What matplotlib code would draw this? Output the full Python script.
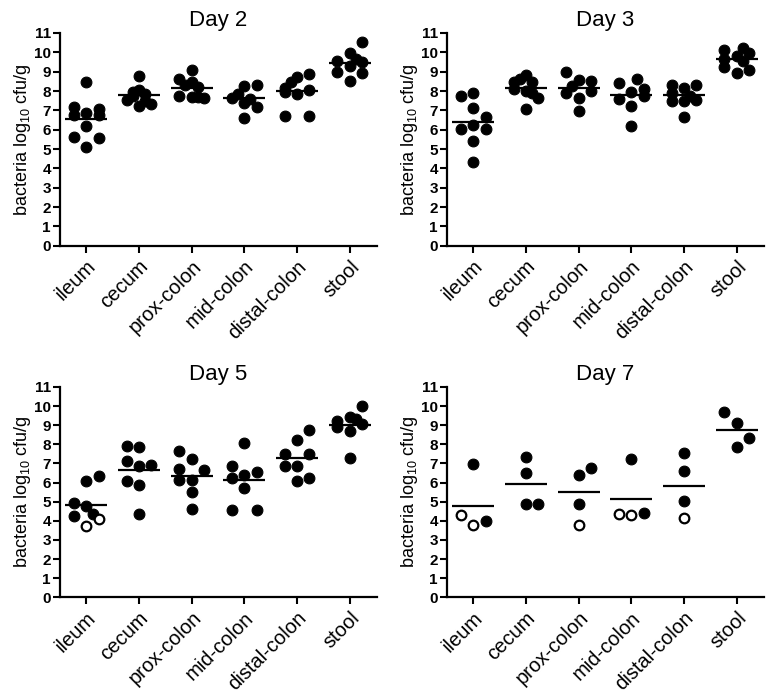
import matplotlib
matplotlib.use("Agg")
import matplotlib.pyplot as plt
import numpy as np

plt.rcParams['font.family'] = ['Liberation Sans', 'DejaVu Sans']
plt.rcParams['mathtext.fontset'] = 'custom'
plt.rcParams['mathtext.rm'] = 'Liberation Sans'
plt.rcParams['mathtext.it'] = 'Liberation Sans:italic'
plt.rcParams['mathtext.bf'] = 'Liberation Sans:bold'

categories = ["ileum", "cecum", "prox-colon", "mid-colon", "distal-colon", "stool"]
titles = ["Day 2", "Day 3", "Day 5", "Day 7"]
yticks = list(range(0, 12))

# ---- Day 2 ----
d2_vals = [
    [8.45, 7.17, 7.06, 6.77, 6.86, 6.77, 6.20, 5.61, 5.56, 5.13],
    [8.80, 8.05, 7.95, 7.85, 7.75, 7.55, 7.50, 7.35, 7.25],
    [9.10, 8.60, 8.45, 8.30, 8.20, 7.75, 7.70, 7.65, 7.70],
    [8.25, 8.30, 7.85, 7.65, 7.60, 7.40, 7.15, 6.60],
    [8.90, 8.75, 8.45, 8.15, 8.07, 7.85, 7.95, 6.70, 6.70],
    [10.55, 9.97, 9.55, 9.65, 9.48, 9.27, 8.96, 8.93, 8.53],
]
d2_slot = [
    [0, -1, 1, -1, 0, 1, 0, -1, 1, 0],
    [0, 0, -0.5, 0.5, -0.5, -1, 0.5, 1, 0],
    [0, -1, 0, -0.5, 0.5, -1, 0, 1, 0.5],
    [0, 1, -0.5, -1, 0.5, 0, 1, 0],
    [1, 0, -0.5, -1, 1, 0, -1, -1, 1],
    [1, 0, -1, 0.5, 1, 0, -1, 1, 0],
]
d2_open = [[] for _ in range(6)]
d2_mean = [6.55, 7.77, 8.15, 7.63, 7.98, 9.45]

# ---- Day 3 ----
d3_vals = [
    [7.72, 7.89, 7.11, 6.63, 6.06, 6.25, 6.06, 5.42, 4.33],
    [8.85, 8.60, 8.45, 8.45, 8.10, 8.00, 7.90, 7.65, 7.05],
    [9.00, 8.55, 8.50, 8.25, 8.00, 7.90, 7.65, 6.95],
    [8.40, 8.60, 7.60, 7.95, 8.10, 7.75, 7.25, 6.20],
    [8.30, 8.15, 8.30, 7.90, 7.75, 7.50, 7.50, 7.55, 6.65],
    [10.10, 10.20, 9.95, 9.80, 9.65, 9.25, 9.55, 8.95, 9.10],
]
d3_slot = [
    [-1, 0, 0, 1, -1, 0, 1, 0, 0],
    [0, -0.5, -1, 0.5, -1, 0, 0.5, 1, 0],
    [-1, 0, 1, -0.5, 1, -1, 0, 0],
    [-1, 0.5, -1, 0, 1, 1, 0, 0],
    [-1, 0, 1, -1, 0.5, -1, 0, 1, 0],
    [-1, 0.5, 1, 0, -1, -1, 0.5, 0, 1],
]
d3_open = [[] for _ in range(6)]
d3_mean = [6.40, 8.13, 8.13, 7.79, 7.79, 9.65]

# ---- Day 5 ----
d5_vals = [
    [4.93, 4.76, 6.07, 6.33, 4.23, 4.35, 3.74, 4.09],
    [7.90, 7.85, 7.15, 6.89, 6.94, 6.10, 5.89, 4.35],
    [7.64, 7.24, 6.73, 6.68, 6.15, 6.15, 5.49, 4.63],
    [8.08, 6.85, 6.42, 6.54, 6.24, 5.72, 4.55, 4.55],
    [8.74, 8.22, 7.47, 7.47, 6.89, 6.89, 6.07, 6.24],
    [10.00, 9.44, 9.21, 9.34, 8.92, 9.04, 8.69, 7.29],
]
d5_slot = [
    [-1, 0, 0, 1, -1, 0.5, 0, 1],
    [-1, 0, -1, 0, 1, -1, 0, 0],
    [-1, 0, -1, 1, -1, 0, 0, 0],
    [0, -1, 0, 1, -1, 0, -1, 1],
    [1, 0, -1, 1, -1, 0, 0, 1],
    [1, 0, -1, 0.5, -1, 1, 0, 0],
]
d5_open = [[6, 7], [], [], [], [], []]
d5_mean = [4.84, 6.64, 6.33, 6.15, 7.29, 9.00]

# ---- Day 7 ----
d7_vals = [
    [6.98, 3.99, 4.33, 3.78],
    [7.35, 6.50, 4.89, 4.89],
    [6.41, 6.76, 4.89, 3.78],
    [7.24, 4.42, 4.37, 4.33],
    [7.54, 6.59, 5.03, 4.16],
    [9.67, 9.10, 8.32, 7.85],
]
d7_slot = [
    [0, 1, -1, 0],
    [0, 0, 0, 1],
    [0, 1, 0, 0],
    [0, 1, -1, 0],
    [0, 0, 0, 0],
    [-1, 0, 1, 0],
]
d7_open = [[2, 3], [], [3], [2, 3], [3], []]
d7_mean = [4.80, 5.93, 5.51, 5.13, 5.84, 8.75]

panels = [
    (d2_vals, d2_slot, d2_open, d2_mean),
    (d3_vals, d3_slot, d3_open, d3_mean),
    (d5_vals, d5_slot, d5_open, d5_mean),
    (d7_vals, d7_slot, d7_open, d7_mean),
]

W, H = 774, 696
fig = plt.figure(figsize=(W / 100, H / 100), dpi=100)

rects = [
    (60, 33, 377, 245.7),
    (447, 33, 764, 245.7),
    (60, 387, 377, 597.3),
    (447, 387, 764, 597.3),
]

spacing = 0.235
half = 0.40

for ax_i, ((vals, slots, opens, means), (x0, y0, x1, y1)) in enumerate(zip(panels, rects)):
    ax = fig.add_axes([x0 / W, 1 - y1 / H, (x1 - x0) / W, (y1 - y0) / H])
    for ci in range(len(categories)):
        v = np.array(vals[ci])
        xs = ci + spacing * np.array(slots[ci], dtype=float)
        is_open = np.zeros(len(v), dtype=bool)
        is_open[opens[ci]] = True
        ax.scatter(xs[~is_open], v[~is_open], s=60, c='black', edgecolors='black',
                   linewidths=0.8, zorder=3, clip_on=False)
        if is_open.any():
            ax.scatter(xs[is_open], v[is_open], s=48, c='white', edgecolors='black',
                       linewidths=1.6, zorder=3, clip_on=False)
        ax.plot([ci - half, ci + half], [means[ci], means[ci]], color='black',
                lw=1.6, zorder=4, solid_capstyle='butt')

    ax.set_xlim(-0.5, 5.52)
    ax.set_ylim(0, 11)
    ax.set_yticks(yticks)
    ax.set_yticklabels([str(t) for t in yticks], fontweight='bold', fontsize=11)
    ax.set_xticks(range(len(categories)))
    ax.set_xticklabels(categories, rotation=45, ha='right', va='top',
                       rotation_mode='anchor', fontsize=14.5)
    for s in ['top', 'right']:
        ax.spines[s].set_visible(False)
    for s in ['left', 'bottom']:
        ax.spines[s].set_linewidth(1.6)
    ax.tick_params(axis='both', direction='out', length=5, width=1.5, pad=1.5)
    ax.tick_params(axis='x', pad=3)
    ax.set_ylabel('bacteria log$_{10}$ cfu/g', fontsize=13, labelpad=1)
    ax.set_title(titles[ax_i], fontsize=16, pad=5)

fig.savefig("out.png", dpi=100)
